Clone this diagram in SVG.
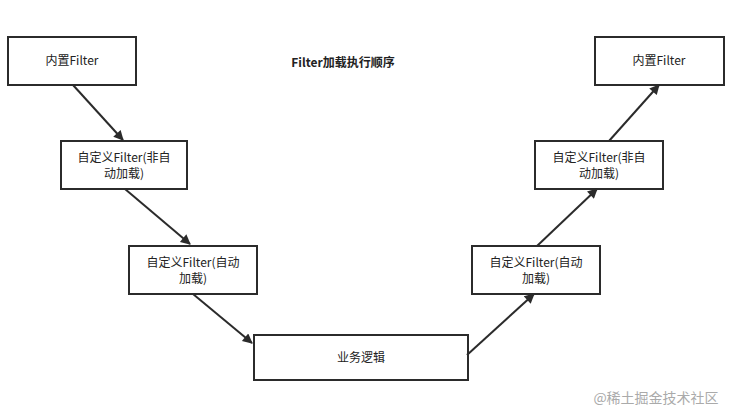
<svg xmlns="http://www.w3.org/2000/svg" width="729" height="411" viewBox="0 0 729 411">
<style>
.n rect{fill:#fff;stroke:#2b2b2b;stroke-width:2}
text{font-family:"Noto Sans CJK SC","Microsoft YaHei",sans-serif;font-size:12px;fill:#222;text-anchor:middle}
.c line{stroke:#2b2b2b;stroke-width:2;marker-end:url(#ah)}
</style>
<defs>
<marker id="ah" viewBox="0 0 10 10" refX="9" refY="5" markerWidth="7" markerHeight="7" markerUnits="userSpaceOnUse" orient="auto">
<path d="M0,0L10,5L0,10z" fill="#2b2b2b"/>
</marker>
<marker id="ah2" viewBox="0 0 10 10" refX="9" refY="5" markerWidth="12" markerHeight="10" markerUnits="userSpaceOnUse" orient="auto">
<path d="M0,0L10,5L0,10z" fill="#2b2b2b"/>
</marker>
</defs>
<rect width="729" height="411" fill="#fff"/>
<text id="title" x="343" y="67" style="font-weight:bold">Filter加载执行顺序</text>
<g id="n1" class="n"><rect x="8" y="37" width="128" height="48"/><text x="72" y="65">内置Filter</text></g>
<g id="n2" class="n"><rect x="61" y="141" width="126" height="48"/><text x="124" y="162">自定义Filter(非自</text><text x="124" y="178">动加载)</text></g>
<g id="n3" class="n"><rect x="129" y="246" width="128" height="48"/><text x="193" y="267">自定义Filter(自动</text><text x="193" y="283">加载)</text></g>
<g id="n4" class="n"><rect x="254" y="335" width="214" height="45"/><text x="361" y="362">业务逻辑</text></g>
<g id="n5" class="n"><rect x="472" y="246" width="128" height="48"/><text x="536" y="267">自定义Filter(自动</text><text x="536" y="283">加载)</text></g>
<g id="n6" class="n"><rect x="535" y="141" width="128" height="48"/><text x="599" y="162">自定义Filter(非自</text><text x="599" y="178">动加载)</text></g>
<g id="n7" class="n"><rect x="595" y="37" width="129" height="48"/><text x="659" y="65">内置Filter</text></g>
<g id="connectors" class="c" style="--x:0">
<line x1="73" y1="85" x2="123" y2="140" marker-end="url(#ah2)" style="marker-end:url(#ah2)"/>
<line x1="125" y1="189" x2="190" y2="244" style="marker-end:url(#ah2)"/>
<line x1="193" y1="294" x2="252" y2="343" style="marker-end:url(#ah2)"/>
<line x1="467" y1="355" x2="534" y2="294" style="marker-end:url(#ah2)"/>
<line x1="537" y1="246" x2="597" y2="189" style="marker-end:url(#ah2)"/>
<line x1="609" y1="141" x2="659" y2="85" style="marker-end:url(#ah2)"/>
</g>
<text id="wm" x="656" y="403" style="font-size:14px;fill:#aaa">@稀土掘金技术社区</text>
</svg>
